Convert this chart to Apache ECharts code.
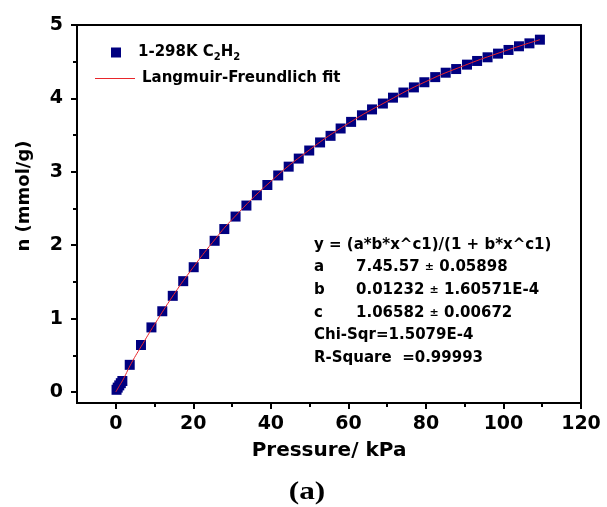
<!DOCTYPE html>
<html>
<head>
<meta charset="utf-8">
<script src="https://cdn.jsdelivr.net/npm/echarts@6/dist/echarts.min.js"></script>
<style>
  html, body { margin: 0; padding: 0; background: #fff; }
  #chart { width: 607px; height: 507px; }
</style>
</head>
<body>
<div id="chart"></div>
<script>
// measured points, 298 K C2H2
const pressure = [0.2, 0.5, 0.9, 1.3, 1.7, 3.6, 6.5, 9.2, 12.0, 14.7, 17.4, 20.1, 22.8, 25.5, 28.0,
  30.9, 33.7, 36.4, 39.1, 41.9, 44.6, 47.2, 49.9, 52.7, 55.4, 58.0, 60.7, 63.5, 66.1, 68.9,
  71.5, 74.2, 76.9, 79.6, 82.4, 85.1, 87.8, 90.6, 93.2, 95.9, 98.6, 101.3, 104.0, 106.7, 109.4]
const uptake = [0.03, 0.06, 0.09, 0.12, 0.15, 0.37, 0.64, 0.88, 1.10, 1.31, 1.51, 1.70, 1.88, 2.06, 2.22,
  2.39, 2.54, 2.68, 2.82, 2.95, 3.07, 3.18, 3.29, 3.40, 3.49, 3.59, 3.68, 3.77, 3.85, 3.93,
  4.01, 4.08, 4.15, 4.22, 4.29, 4.35, 4.40, 4.46, 4.51, 4.56, 4.61, 4.66, 4.71, 4.75, 4.80]

// fit curve
const fitPressure = [0, 1, 2, 4, 7, 10, 15, 20, 25, 30, 40, 50, 60, 70, 80, 90, 100, 109.4]
const fitUptake = [0, 0.09, 0.18, 0.39, 0.66, 0.92, 1.33, 1.70, 2.04, 2.35, 2.87, 3.30, 3.66, 3.96, 4.23, 4.45, 4.64, 4.80]

const xMajor = [0, 20, 40, 60, 80, 100, 120]
const xMinor = [10, 30, 50, 70, 90, 110]
const yMajor = [0, 1, 2, 3, 4, 5]
const yMinor = [0.5, 1.5, 2.5, 3.5, 4.5]

const fitText = [
  ['y = (a*b*x^c1)/(1 + b*x^c1)', ''],
  ['a', '7.45.57 {pm|±} 0.05898'],
  ['b', '0.01232 {pm|±} 1.60571E-4'],
  ['c', '1.06582 {pm|±} 0.00672'],
  ['Chi-Sqr=1.5079E-4', ''],
  ['R-Square  =0.99993', '']
]

const font = 'DejaVu Sans'
const chart = echarts.init(document.getElementById('chart'))

const textEls = []
fitText.forEach((row, i) => {
  const y = 245 + i * 22.6
  textEls.push({
    type: 'text', x: 314, y: y,
    style: { text: row[0], font: 'bold 15px ' + font, fill: '#000', verticalAlign: 'middle' }
  })
  if (row[1]) {
    textEls.push({
      type: 'text', x: 356, y: y,
      style: {
        text: '{v|' + row[1].replace(' {pm|±} ', ' }{pm|±}{v| ') + '}',
        verticalAlign: 'middle',
        rich: {
          v: { font: 'bold 15px ' + font, fill: '#000' },
          pm: { font: 'bold 11px ' + font, fill: '#000' }
        }
      }
    })
  }
})
textEls.push({
  type: 'text', x: 307, y: 493, scaleX: 1.25,
  style: { text: '(a)', font: 'bold 25px "Liberation Serif", serif', fill: '#000', align: 'center', verticalAlign: 'middle' }
})

const axisLbl = { fontFamily: font, fontWeight: 'bold', fontSize: 19, color: '#000' }

chart.setOption({
  backgroundColor: '#fff',
  animation: false,
  grid: { left: 77, right: 26, top: 25, bottom: 104, show: true, borderColor: '#000', borderWidth: 2 },
  legend: [
    {
      data: [{ name: '1-298K C2H2', icon: 'rect' }], left: 111, top: 43, padding: 0,
      itemWidth: 10, itemHeight: 10,
      formatter: () => '{n|1-298K C}{s|2}{n|H}{s|2}',
      textStyle: {
        padding: [0, 0, 0, 12],
        rich: {
          n: { fontFamily: font, fontWeight: 'bold', fontSize: 15, color: '#000', lineHeight: 20 },
          s: { fontFamily: font, fontWeight: 'bold', fontSize: 10, color: '#000', lineHeight: 20, padding: [9, 0, 0, 0] }
        }
      }
    },
    {
      data: [{ name: 'Langmuir-Freundlich fit', icon: 'rect' }], left: 95, top: 71, padding: 0,
      itemWidth: 40, itemHeight: 1.2,
      textStyle: { fontFamily: font, fontWeight: 'bold', fontSize: 15, color: '#000', padding: [0, 0, 0, 2] }
    }
  ],
  xAxis: [
    {
      type: 'value', min: -10, max: 120,
      name: 'Pressure/ kPa', nameLocation: 'middle', nameGap: 38,
      nameTextStyle: { fontFamily: font, fontWeight: 'bold', fontSize: 20, color: '#000' },
      axisLine: { onZero: false, lineStyle: { color: '#000', width: 2 } },
      axisTick: { customValues: xMajor, length: 6, lineStyle: { color: '#000', width: 2 } },
      axisLabel: Object.assign({ customValues: xMajor, margin: 12 }, axisLbl),
      splitLine: { show: false }
    },
    {
      type: 'value', min: -10, max: 120, position: 'bottom',
      axisLine: { show: false, onZero: false },
      axisTick: { customValues: xMinor, length: 4, lineStyle: { color: '#000', width: 2 } },
      axisLabel: { show: false },
      splitLine: { show: false }
    }
  ],
  yAxis: [
    {
      type: 'value', min: -0.15, max: 5,
      name: 'n (mmol/g)', nameLocation: 'middle', nameGap: 44,
      nameTextStyle: { fontFamily: font, fontWeight: 'bold', fontSize: 18, color: '#000', padding: [0, 0, 0, 36] },
      axisLine: { onZero: false, lineStyle: { color: '#000', width: 2 } },
      axisTick: { customValues: yMajor, length: 6, lineStyle: { color: '#000', width: 2 } },
      axisLabel: Object.assign({ customValues: yMajor, margin: 14 }, axisLbl),
      splitLine: { show: false }
    },
    {
      type: 'value', min: -0.15, max: 5, position: 'left',
      axisLine: { show: false, onZero: false },
      axisTick: { customValues: yMinor, length: 4, lineStyle: { color: '#000', width: 2 } },
      axisLabel: { show: false },
      splitLine: { show: false }
    }
  ],
  series: [
    {
      name: '1-298K C2H2', type: 'scatter', z: 2,
      symbol: 'rect', symbolSize: 10,
      itemStyle: { color: '#000080', opacity: 1 },
      emphasis: { disabled: true },
      data: pressure.map((p, i) => [p, uptake[i]])
    },
    {
      name: 'Langmuir-Freundlich fit', type: 'line', z: 3,
      symbol: 'none', smooth: true,
      lineStyle: { color: '#e8262b', width: 1 },
      itemStyle: { color: '#e8262b' },
      data: fitPressure.map((p, i) => [p, fitUptake[i]])
    }
  ],
  graphic: textEls
})
</script>
</body>
</html>
